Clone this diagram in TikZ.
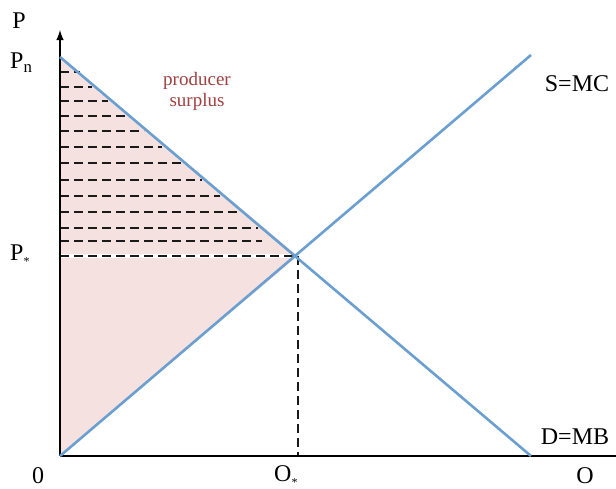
\documentclass[tikz,border=0pt]{standalone}
\usepackage{fontspec}
\setmainfont{Liberation Serif}
\definecolor{curve}{HTML}{6A9FD0}
\definecolor{surplus}{HTML}{F5E2E0}
\definecolor{labelred}{HTML}{A04040}
\definecolor{dashgray}{HTML}{1A1A1A}
\newcommand{\substar}{\raisebox{-0.45ex}{\fontsize{12}{12}\selectfont *}}
\begin{document}
\begin{tikzpicture}[x=1pt,y=-1pt,
  axisline/.style={line width=2.4pt,black},
  curveline/.style={line width=2.6pt,curve},
  dashline/.style={line width=2.8pt,dashgray,dash pattern=on 9pt off 5pt},
  lbl/.style={font=\fontsize{24}{26}\selectfont,inner sep=0pt},
  pslbl/.style={font=\fontsize{19}{21}\selectfont,text=labelred,align=center,inner sep=0pt}]
\useasboundingbox (0,0) rectangle (616,488);
\coordinate (O) at (60,456);
\coordinate (Pn) at (60,57);
\coordinate (E) at (298,256);
\coordinate (Dend) at (531,456);
\coordinate (Send) at (531,55);
\coordinate (Ytop) at (60,30);
\coordinate (Xend) at (616,456);
\coordinate (Ebase) at (298,456);
\coordinate (Pstar) at (60,256);
% surplus area
\fill[surplus] (Pn) -- (E) -- (O) -- cycle;
% dashed lines
\foreach \y/\x in {72/80,87/92,101/108,116/126,131/144,147/162,163/182,180/202,196/220,212/238,228/258,241/262} {
  \draw[dashline] (60,\y) -- (\x,\y);
}
\draw[line width=3.4pt,white] (Pstar) -- (E);
\draw[dashline] (Pstar) -- (E);
\draw[dashline] (E) -- (Ebase);
% axes
\draw[axisline] (O) -- (Xend);
\draw[axisline,-latex] (O) -- (Ytop);
% curves
\draw[curveline] (O) -- (Send);
\draw[curveline] (Pn) -- (Dend);
% labels
\node[lbl] (lP) at (19,21) {P};
\node[lbl,anchor=west] (lPn) at (10,63) {P\textsubscript{n}};
\node[lbl,anchor=west] (lPs) at (10,255) {P\substar};
\node[lbl] (l0) at (38,476) {0};
\node[lbl,anchor=west] (lQs) at (274,476) {O\substar};
\node[lbl] (lQ) at (585,476) {O};
\node[lbl] (lS) at (577,84) {S=MC};
\node[lbl] (lD) at (575,437) {D=MB};
\node[pslbl] (lps) at (197,91) {producer\\surplus};
\end{tikzpicture}
\end{document}
